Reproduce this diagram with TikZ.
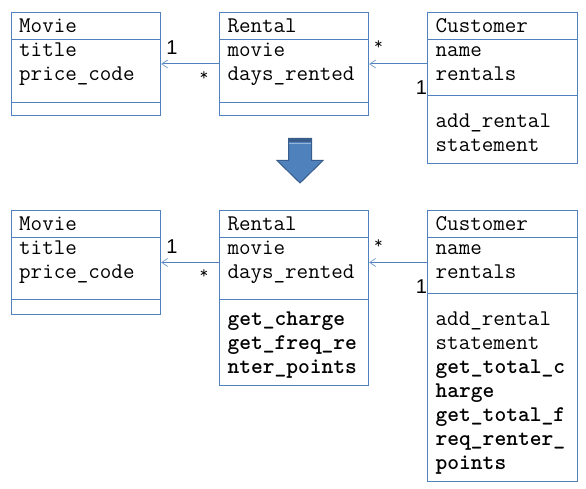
\documentclass[tikz,border=0pt]{standalone}
\usepackage{fontspec}
\newfontfamily\labelsans{Liberation Sans}
\usetikzlibrary{arrows.meta}
\definecolor{umlblue}{RGB}{79,129,189}
\definecolor{arrowhead}{RGB}{120,160,210}
\definecolor{blockfill}{RGB}{79,129,189}
\definecolor{blockedge}{RGB}{56,93,138}
\tikzset{
  umlbox/.style={draw=umlblue, line width=1pt, inner sep=0pt, outer sep=0pt, anchor=north west},
  sepline/.style={draw=umlblue, line width=1pt},
  txt/.style={anchor=base west, inner sep=0pt, font=\ttfamily\fontsize{22.4}{24}\selectfont},
  btxt/.style={txt, font=\ttfamily\fontsize{22.4}{24}\selectfont\bfseries},
  assoc/.style={draw=umlblue, line width=1pt, -{Straight Barb[length=6pt,width=8pt,line width=0.8pt,color=arrowhead]}},
  mult/.style={anchor=base, inner sep=0pt, font=\labelsans\fontsize{20}{24}\selectfont},
  star/.style={anchor=center, inner sep=0pt, font=\ttfamily\fontsize{17}{20}\selectfont},
}
\begin{document}
\begin{tikzpicture}[x=1pt,y=-1pt]
\useasboundingbox (0,0) rectangle (586,489);
% ---------- top diagram ----------
\node[umlbox, minimum width=149, minimum height=103.5] (movA) at (11.5,12.5) {};
\draw[sepline] (11.5,39.5) -- (160.5,39.5);
\draw[sepline] (11.5,102.5) -- (160.5,102.5);
\node[txt] (movAn) at (19,33) {Movie};
\node[txt] (movA1) at (19,57) {title};
\node[txt] (movA2) at (19,81) {price\_code};

\node[umlbox, minimum width=149, minimum height=103.5] (renA) at (219.5,12.5) {};
\draw[sepline] (219.5,39.5) -- (368.5,39.5);
\draw[sepline] (219.5,102.5) -- (368.5,102.5);
\node[txt] (renAn) at (227.3,33) {Rental};
\node[txt] (renA1) at (227.3,57) {movie};
\node[txt] (renA2) at (227.3,81) {days\_rented};

\node[umlbox, minimum width=149.5, minimum height=151.5] (cusA) at (427.5,12.5) {};
\draw[sepline] (427.5,39.5) -- (577,39.5);
\draw[sepline] (427.5,95.5) -- (577,95.5);
\node[txt] (cusAn) at (435.5,33) {Customer};
\node[txt] (cusA1) at (435.5,57) {name};
\node[txt] (cusA2) at (435.5,81) {rentals};
\node[txt] (cusA3) at (435.5,128) {add\_rental};
\node[txt] (cusA4) at (435.5,152) {statement};

\coordinate (rAw) at (219.5,64);
\coordinate (mAe) at (161,64);
\coordinate (cAw) at (427.5,64);
\coordinate (rAe) at (369,64);
\draw[assoc] (rAw) -- (mAe);
\draw[assoc] (cAw) -- (rAe);
\node[mult] (m1) at (172,55) {1};
\node[star] (s1) at (204,76) {*};
\node[star] (s2) at (378.5,45) {*};
\node[mult] (m2) at (421.5,94.5) {1};

% ---------- block arrow ----------
\fill[blockfill, draw=blockedge, line width=1pt, line join=miter]
  (288.5,138.5) -- (311.5,138.5) -- (311.5,160.5) -- (323,160.5) -- (300,183) -- (277,160.5) -- (288.5,160.5) -- cycle;
\fill[blockedge] (288.5,138.5) rectangle (311.5,142);
\draw[blockfill!60!white, line width=0.8pt] (289,143.5) -- (311,143.5);

% ---------- bottom diagram ----------
\node[umlbox, minimum width=149, minimum height=103.5] (movB) at (11.5,211) {};
\draw[sepline] (11.5,237.5) -- (160.5,237.5);
\draw[sepline] (11.5,299) -- (160.5,299);
\node[txt] (movBn) at (19,230.5) {Movie};
\node[txt] (movB1) at (19,254.5) {title};
\node[txt] (movB2) at (19,278.5) {price\_code};

\node[umlbox, minimum width=149, minimum height=174] (renB) at (219.5,211) {};
\draw[sepline] (219.5,237.5) -- (368.5,237.5);
\draw[sepline] (219.5,299) -- (368.5,299);
\node[txt] (renBn) at (227.3,230.5) {Rental};
\node[txt] (renB1) at (227.3,254.5) {movie};
\node[txt] (renB2) at (227.3,278.5) {days\_rented};
\node[btxt] (renB3) at (227.3,325) {get\_charge};
\node[btxt] (renB4) at (227.3,349) {get\_freq\_re};
\node[btxt] (renB5) at (227.3,373) {nter\_points};

\node[umlbox, minimum width=149.5, minimum height=270] (cusB) at (427.5,211) {};
\draw[sepline] (427.5,237.5) -- (577,237.5);
\draw[sepline] (427.5,293.5) -- (577,293.5);
\node[txt] (cusBn) at (435.5,230.5) {Customer};
\node[txt] (cusB1) at (435.5,254.5) {name};
\node[txt] (cusB2) at (435.5,278.5) {rentals};
\node[txt] (cusB3) at (435.5,325) {add\_rental};
\node[txt] (cusB4) at (435.5,349) {statement};
\node[btxt] (cusB5) at (435.5,373) {get\_total\_c};
\node[btxt] (cusB6) at (435.5,397) {harge};
\node[btxt] (cusB7) at (435.5,421) {get\_total\_f};
\node[btxt] (cusB8) at (435.5,445) {req\_renter\_};
\node[btxt] (cusB9) at (435.5,469) {points};

\coordinate (rBw) at (219.5,262.5);
\coordinate (mBe) at (161,262.5);
\coordinate (cBw) at (427.5,262.5);
\coordinate (rBe) at (369,262.5);
\draw[assoc] (rBw) -- (mBe);
\draw[assoc] (cBw) -- (rBe);
\node[mult] (m3) at (172,253.5) {1};
\node[star] (s3) at (204,274) {*};
\node[star] (s4) at (378.5,244) {*};
\node[mult] (m4) at (421.5,293) {1};
\end{tikzpicture}
\end{document}
